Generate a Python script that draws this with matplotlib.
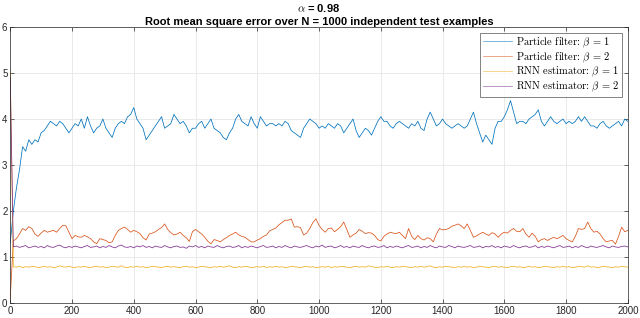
import numpy as np
import matplotlib
matplotlib.use('Agg')
import matplotlib.pyplot as plt

plt.rcParams['font.family'] = ['Liberation Sans', 'DejaVu Sans']
plt.rcParams['mathtext.fontset'] = 'cm'
plt.rcParams['axes.unicode_minus'] = False

# time axis: one sample every 10 steps, 0..2000
steps = np.arange(0, 2001, 10)

pf_beta1 = [
    1.30, 2.00, 2.50, 2.90, 3.40, 3.30, 3.55, 3.45, 3.55, 3.50,
    3.70, 3.75, 3.85, 3.95, 3.90, 3.85, 3.95, 3.90, 3.80, 3.70,
    3.80, 3.90, 3.85, 4.00, 3.80, 4.05, 3.85, 3.70, 3.80, 3.85,
    4.00, 3.80, 3.70, 3.60, 3.80, 3.90, 3.95, 3.90, 4.05, 4.10,
    4.25, 4.00, 3.90, 3.80, 3.55, 3.65, 3.75, 3.85, 3.95, 4.05,
    3.80, 3.85, 3.90, 4.10, 4.00, 3.90, 3.95, 3.85, 3.70, 3.80,
    3.80, 3.90, 3.95, 3.80, 3.90, 4.00, 3.80, 3.75, 3.70, 3.60,
    3.55, 3.70, 3.80, 4.00, 4.10, 3.95, 3.90, 3.85, 4.05, 3.90,
    3.80, 4.05, 3.95, 3.85, 3.90, 3.90, 3.85, 3.90, 3.85, 3.95,
    3.90, 3.75, 3.70, 3.65, 3.60, 3.80, 3.90, 4.00, 3.95, 3.90,
    3.80, 3.85, 3.80, 3.90, 3.85, 3.80, 3.90, 3.85, 3.70, 3.80,
    3.90, 4.00, 3.75, 3.60, 3.70, 3.80, 3.75, 3.65, 3.80, 3.95,
    4.05, 3.95, 3.95, 3.85, 3.80, 3.90, 3.95, 3.90, 3.85, 3.80,
    3.90, 3.85, 3.95, 3.80, 3.75, 4.00, 4.15, 4.00, 3.85, 3.90,
    4.00, 3.90, 3.85, 3.80, 3.85, 3.90, 3.85, 3.80, 3.85, 4.00,
    4.15, 3.90, 3.70, 3.50, 3.65, 3.55, 3.45, 3.80, 3.95, 3.95,
    4.05, 4.20, 4.40, 4.15, 3.90, 3.95, 3.95, 3.90, 4.00, 4.05,
    4.10, 4.20, 3.95, 3.85, 3.95, 4.05, 3.95, 3.90, 3.95, 4.00,
    3.90, 3.95, 3.90, 3.95, 4.05, 3.95, 4.05, 3.95, 3.85, 3.85,
    3.80, 3.90, 3.95, 3.85, 3.80, 3.85, 3.90, 3.95, 3.85, 4.00,
    3.95]

pf_beta2 = [
    0.10, 1.35, 1.40, 1.50, 1.62, 1.58, 1.66, 1.62, 1.50, 1.45,
    1.52, 1.58, 1.54, 1.56, 1.58, 1.54, 1.62, 1.69, 1.68, 1.54,
    1.40, 1.47, 1.44, 1.43, 1.47, 1.44, 1.40, 1.33, 1.29, 1.40,
    1.38, 1.36, 1.31, 1.33, 1.47, 1.58, 1.62, 1.65, 1.60, 1.54,
    1.58, 1.55, 1.51, 1.42, 1.37, 1.50, 1.52, 1.55, 1.60, 1.64,
    1.72, 1.60, 1.53, 1.48, 1.50, 1.54, 1.47, 1.42, 1.34, 1.55,
    1.60, 1.55, 1.50, 1.43, 1.34, 1.29, 1.38, 1.36, 1.33, 1.38,
    1.42, 1.47, 1.50, 1.54, 1.48, 1.45, 1.43, 1.38, 1.33, 1.33,
    1.37, 1.40, 1.45, 1.48, 1.57, 1.60, 1.63, 1.70, 1.75, 1.80,
    1.80, 1.83, 1.65, 1.66, 1.64, 1.48, 1.52, 1.62, 1.75, 1.83,
    1.69, 1.60, 1.54, 1.62, 1.63, 1.55, 1.60, 1.66, 1.76, 1.60,
    1.43, 1.48, 1.52, 1.60, 1.56, 1.51, 1.53, 1.52, 1.47, 1.38,
    1.35, 1.45, 1.50, 1.54, 1.52, 1.51, 1.54, 1.47, 1.40, 1.62,
    1.45, 1.38, 1.47, 1.40, 1.37, 1.42, 1.40, 1.33, 1.50, 1.62,
    1.59, 1.60, 1.62, 1.67, 1.69, 1.72, 1.68, 1.62, 1.72, 1.58,
    1.43, 1.46, 1.50, 1.54, 1.50, 1.47, 1.53, 1.50, 1.43, 1.50,
    1.54, 1.52, 1.58, 1.62, 1.56, 1.55, 1.62, 1.50, 1.43, 1.52,
    1.45, 1.33, 1.38, 1.40, 1.36, 1.40, 1.43, 1.40, 1.43, 1.47,
    1.40, 1.36, 1.33, 1.45, 1.62, 1.60, 1.62, 1.76, 1.62, 1.54,
    1.56, 1.50, 1.40, 1.33, 1.35, 1.36, 1.28, 1.45, 1.65, 1.55,
    1.58]

rnn_beta1 = [
    5.05, 0.79, 0.78, 0.80, 0.77, 0.79, 0.78, 0.80, 0.79, 0.77,
    0.78, 0.80, 0.78, 0.79, 0.77, 0.78, 0.81, 0.79, 0.78, 0.80,
    0.78, 0.77, 0.79, 0.78, 0.80, 0.78, 0.77, 0.79, 0.80, 0.78,
    0.79, 0.77, 0.78, 0.80, 0.79, 0.78, 0.81, 0.78, 0.77, 0.79,
    0.78, 0.80, 0.78, 0.79, 0.77, 0.78, 0.80, 0.79, 0.78, 0.77,
    0.79, 0.80, 0.78, 0.79, 0.78, 0.77, 0.79, 0.80, 0.78, 0.79,
    0.77, 0.78, 0.80, 0.79, 0.78, 0.77, 0.79, 0.78, 0.80, 0.78,
    0.79, 0.81, 0.78, 0.77, 0.79, 0.78, 0.80, 0.79, 0.77, 0.78,
    0.79, 0.78, 0.80, 0.77, 0.79, 0.78, 0.80, 0.78, 0.79, 0.77,
    0.78, 0.80, 0.79, 0.78, 0.77, 0.79, 0.80, 0.78, 0.79, 0.77,
    0.78, 0.79, 0.78, 0.80, 0.77, 0.79, 0.78, 0.80, 0.79, 0.78,
    0.77, 0.79, 0.80, 0.78, 0.79, 0.78, 0.81, 0.79, 0.78, 0.77,
    0.79, 0.78, 0.80, 0.78, 0.77, 0.79, 0.78, 0.80, 0.79, 0.78,
    0.77, 0.79, 0.78, 0.80, 0.78, 0.79, 0.81, 0.78, 0.77, 0.79,
    0.78, 0.80, 0.79, 0.78, 0.77, 0.79, 0.78, 0.80, 0.78, 0.79,
    0.77, 0.78, 0.80, 0.79, 0.78, 0.77, 0.79, 0.80, 0.78, 0.79,
    0.78, 0.77, 0.79, 0.80, 0.78, 0.79, 0.77, 0.78, 0.80, 0.78,
    0.79, 0.77, 0.78, 0.80, 0.79, 0.78, 0.77, 0.79, 0.78, 0.80,
    0.78, 0.79, 0.77, 0.78, 0.80, 0.79, 0.78, 0.81, 0.78, 0.79,
    0.77, 0.78, 0.80, 0.79, 0.78, 0.77, 0.79, 0.78, 0.80, 0.79,
    0.78]

rnn_beta2 = [
    4.90, 1.22, 1.24, 1.21, 1.23, 1.25, 1.20, 1.22, 1.24, 1.21,
    1.23, 1.20, 1.25, 1.22, 1.21, 1.24, 1.26, 1.22, 1.20, 1.23,
    1.21, 1.24, 1.22, 1.20, 1.23, 1.25, 1.21, 1.22, 1.24, 1.20,
    1.23, 1.21, 1.25, 1.22, 1.20, 1.24, 1.26, 1.22, 1.21, 1.23,
    1.20, 1.24, 1.22, 1.25, 1.21, 1.23, 1.20, 1.24, 1.22, 1.21,
    1.25, 1.22, 1.20, 1.23, 1.24, 1.21, 1.22, 1.19, 1.24, 1.22,
    1.25, 1.21, 1.23, 1.20, 1.24, 1.22, 1.21, 1.25, 1.22, 1.20,
    1.23, 1.24, 1.21, 1.22, 1.25, 1.20, 1.23, 1.21, 1.24, 1.22,
    1.20, 1.23, 1.25, 1.21, 1.22, 1.24, 1.20, 1.23, 1.21, 1.25,
    1.22, 1.20, 1.24, 1.22, 1.21, 1.23, 1.25, 1.22, 1.20, 1.24,
    1.22, 1.26, 1.21, 1.23, 1.24, 1.20, 1.22, 1.25, 1.21, 1.23,
    1.20, 1.24, 1.22, 1.21, 1.25, 1.22, 1.20, 1.23, 1.24, 1.21,
    1.22, 1.25, 1.20, 1.23, 1.21, 1.24, 1.22, 1.20, 1.23, 1.25,
    1.21, 1.22, 1.24, 1.20, 1.23, 1.21, 1.25, 1.22, 1.20, 1.24,
    1.22, 1.21, 1.25, 1.23, 1.20, 1.24, 1.22, 1.21, 1.23, 1.25,
    1.21, 1.22, 1.24, 1.20, 1.23, 1.22, 1.25, 1.21, 1.23, 1.20,
    1.24, 1.22, 1.21, 1.25, 1.22, 1.20, 1.23, 1.24, 1.21, 1.22,
    1.25, 1.20, 1.23, 1.21, 1.24, 1.22, 1.20, 1.23, 1.25, 1.21,
    1.22, 1.24, 1.20, 1.23, 1.21, 1.25, 1.22, 1.20, 1.24, 1.22,
    1.21, 1.23, 1.25, 1.22, 1.20, 1.24, 1.22, 1.21, 1.23, 1.24,
    1.22]

labels = [r'Particle filter: $\beta\, =\, 1$',
          r'Particle filter: $\beta\, =\, 2$',
          r'RNN estimator: $\beta\, =\, 1$',
          r'RNN estimator: $\beta\, =\, 2$']
colors = ['#0072BD', '#D95319', '#EDB120', '#7E2F8E']

fig = plt.figure(figsize=(6.4, 3.18), dpi=100)
ax = fig.add_axes([0.016, 0.047, 0.965, 0.868])

for vals, lab, col in zip([pf_beta1, pf_beta2, rnn_beta1, rnn_beta2], labels, colors):
    ax.plot(steps, vals, color=col, linewidth=0.55, label=lab)

ax.set_xlim(0, 2000)
ax.set_ylim(0, 6)
ax.set_xticks(np.arange(0, 2001, 200))
ax.set_yticks(np.arange(0, 7, 1))
ax.grid(True, color='#e6e6e6', linewidth=0.6)
ax.set_axisbelow(True)
ax.tick_params(direction='in', top=True, right=True, length=3, width=0.5,
               labelsize=7, colors='#262626', pad=2)
for s in ax.spines.values():
    s.set_color('#262626')
    s.set_linewidth(0.5)

ax.set_title(r'$\alpha$ = 0.98' + '\nRoot mean square error over N = 1000 independent test examples',
             fontsize=8, fontweight='bold', pad=1.5, linespacing=1.35)

leg = ax.legend(loc='upper right', prop={'family': 'cmr10', 'size': 7.5}, frameon=True,
                fancybox=False, handlelength=2.8, borderaxespad=0.55, labelspacing=0.05,
                borderpad=0.25, handletextpad=0.4)
leg.get_frame().set_edgecolor('#262626')
leg.get_frame().set_linewidth(0.5)
for line in leg.get_lines():
    line.set_alpha(0.65)

fig.savefig('out.png', dpi=100)
